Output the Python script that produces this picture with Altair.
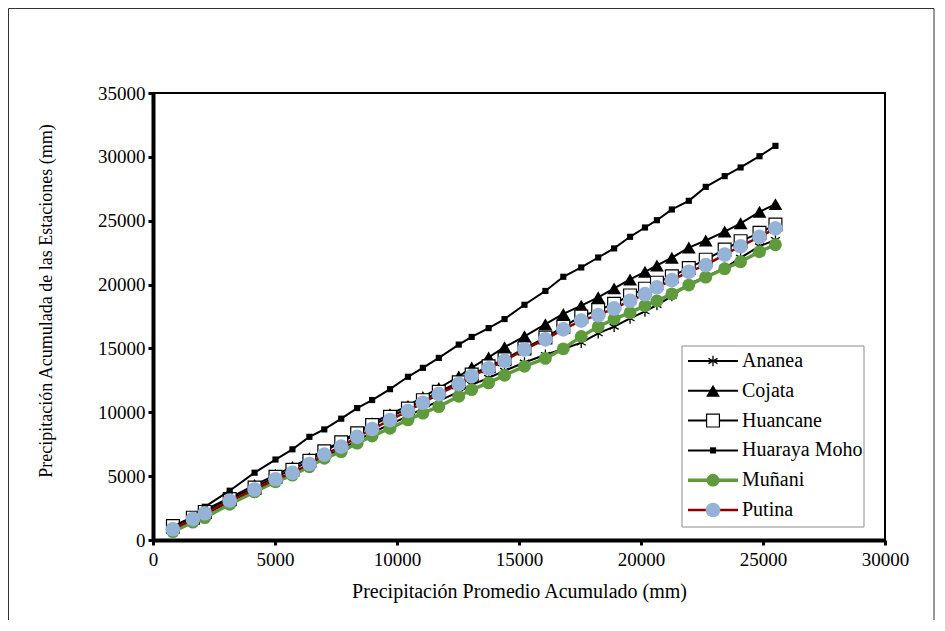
import altair as alt
import pandas as pd

# ---------------- data ----------------
x_prom = [816, 1633, 2122, 3143, 4163, 5020, 5714, 6408, 7020, 7714, 8367, 8980,
          9714, 10449, 11061, 11714, 12531, 13061, 13755, 14408, 15224, 16082, 16816,
          17551, 18245, 18898, 19551, 20163, 20653, 21265, 21959, 22653, 23429, 24082,
          24857, 25510]

ananea = [800, 1600, 2000, 2950, 3900, 4650, 5150, 5850, 6550, 7100, 7800, 8400, 9050,
          9700, 10300, 10900, 11600, 12150, 12700, 13250, 13900, 14500, 14950, 15450,
          16180, 16700, 17350, 17900, 18400, 19100, 20050, 20600, 21300, 22100, 23000, 23500]
cojata = [950, 1750, 2350, 3300, 4300, 5100, 5720, 6400, 7050, 7700, 8450, 9150, 9850,
          10500, 11200, 11900, 12800, 13500, 14300, 15100, 15950, 16900, 17700, 18350,
          19000, 19700, 20400, 21000, 21500, 22100, 22900, 23450, 24150, 24800, 25700, 26300]
huancane = [1100, 1750, 2200, 3200, 4100, 4950, 5500, 6200, 6950, 7650, 8350, 9000, 9650,
            10300, 10950, 11600, 12350, 12950, 13600, 14150, 15000, 15850, 16700, 17500,
            18000, 18500, 19150, 19680, 20150, 20650, 21300, 21950, 22750, 23400, 24050, 24700]
huaraya_moho = [1040, 1820, 2600, 3860, 5270, 6300, 7100, 8080, 8660, 9500, 10330, 10960,
                11810, 12780, 13480, 14260, 15300, 15900, 16590, 17300, 18420, 19500, 20610,
                21340, 22120, 22830, 23740, 24470, 25040, 25880, 26560, 27650, 28490, 29170,
                30050, 30860]
munani = [650, 1400, 1750, 2800, 3770, 4560, 5080, 5730, 6400, 6920, 7580, 8140, 8750,
          9400, 9930, 10440, 11250, 11770, 12300, 12900, 13600, 14220, 14970, 15940, 16700,
          17300, 17800, 18350, 18720, 19270, 19960, 20580, 21240, 21790, 22570, 23120]
putina = [840, 1640, 2090, 3080, 3950, 4760, 5260, 5950, 6690, 7310, 8070, 8690, 9390,
          10100, 10750, 11420, 12210, 12840, 13440, 14030, 14920, 15710, 16490, 17180, 17610,
          18130, 18730, 19250, 19780, 20350, 21000, 21520, 22350, 23000, 23740, 24400]

series_names = ["Ananea", "Cojata", "Huancane", "Huaraya Moho", "Muñani", "Putina"]
series_values = [ananea, cojata, huancane, huaraya_moho, munani, putina]

x_ticks = [0, 5000, 10000, 15000, 20000, 25000, 30000]
y_ticks = [0, 5000, 10000, 15000, 20000, 25000, 30000, 35000]

# ---------------- styles ----------------
ASTERISK = "M0,-1L0,1M-0.866,-0.5L0.866,0.5M-0.866,0.5L0.866,-0.5"
styles = {
    "Ananea":       dict(line="black", lw=2, shape=ASTERISK, size=110, filled=False,
                         fill="black", stroke="black", sw=1.3),
    "Cojata":       dict(line="black", lw=2, shape="triangle-up", size=190, filled=True,
                         fill="black", stroke="black", sw=0),
    "Huancane":     dict(line="black", lw=2, shape="square", size=165, filled=True,
                         fill="white", stroke="black", sw=1.2),
    "Huaraya Moho": dict(line="black", lw=2, shape="square", size=38, filled=True,
                         fill="black", stroke="black", sw=0),
    "Muñani":       dict(line="#5f9b3c", lw=3.5, shape="circle", size=165, filled=True,
                         fill="#5f9b3c", stroke="#5f9b3c", sw=0),
    "Putina":       dict(line="#8b0000", lw=2.5, shape="circle", size=215, filled=True,
                         fill="#95b3d7", stroke="#95b3d7", sw=0),
}

FONT = "Times New Roman, Liberation Serif, serif"
W, H = 732, 447

xscale = alt.Scale(domain=[0, 30000], nice=False, zero=False)
yscale = alt.Scale(domain=[0, 35000], nice=False, zero=False)

xaxis = alt.Axis(values=x_ticks, format="d", title="Precipitación Promedio Acumulado (mm)",
                 grid=False, tickSize=5, tickWidth=3, domainWidth=4, labelPadding=5,
                 titlePadding=12, titleFontSize=20, labelFlush=False, labelOverlap=False)
yaxis = alt.Axis(values=y_ticks, format="d",
                 title="Precipitación Acumulada de las Estaciones (mm)",
                 grid=False, tickSize=5, tickWidth=3, domainWidth=4, labelPadding=3,
                 titleX=-98, titleY=H / 2 - 16, titleFontSize=18,
                 labelFlush=False, labelOverlap=False)

series_layers = []
for name, vals in zip(series_names, series_values):
    st = styles[name]
    df = pd.DataFrame({"x": x_prom, "y": vals, "serie": name})
    base = alt.Chart(df).encode(
        x=alt.X("x:Q", scale=xscale, axis=xaxis),
        y=alt.Y("y:Q", scale=yscale, axis=yaxis),
    )
    line = base.mark_line(color=st["line"], strokeWidth=st["lw"])
    pts = base.mark_point(shape=st["shape"], size=st["size"], filled=st["filled"],
                          fill=st["fill"] if st["filled"] else "transparent",
                          stroke=st["stroke"], strokeWidth=st["sw"], opacity=1)
    series_layers += [line, pts]

main = alt.layer(*series_layers)

# ---------------- frame and legend ----------------
one = pd.DataFrame({"k": [0]})
frame = alt.Chart(one).mark_rect(fill="transparent", stroke="#333333", strokeWidth=1).encode(
    x=alt.value(-144.5), x2=alt.value(781), y=alt.value(-84.5), y2=alt.value(560))

legend_box = alt.Chart(one).mark_rect(fill="white", stroke="#8c8c8c", strokeWidth=1).encode(
    x=alt.value(529), x2=alt.value(711), y=alt.value(253), y2=alt.value(434))

legend_y = alt.Scale(type="point", domain=series_names, range=[268, 417], padding=0)
legend_layers = [legend_box]
for name in series_names:
    st = styles[name]
    ldf = pd.DataFrame({"serie": [name]})
    lb = alt.Chart(ldf).encode(y=alt.Y("serie:N", scale=legend_y, axis=None))
    legend_layers.append(lb.mark_rule(color=st["line"], strokeWidth=st["lw"]).encode(
        x=alt.value(535), x2=alt.value(585)))
    legend_layers.append(lb.mark_point(shape=st["shape"], size=st["size"], filled=st["filled"],
                                       fill=st["fill"] if st["filled"] else "transparent",
                                       stroke=st["stroke"], strokeWidth=st["sw"],
                                       opacity=1).encode(x=alt.value(560)))
    legend_layers.append(lb.mark_text(align="left", baseline="middle", font=FONT,
                                      fontSize=20, color="black").encode(
        x=alt.value(589), text="serie:N"))

legend = alt.layer(*legend_layers)

chart = alt.layer(frame, main, legend).resolve_scale(y="independent").properties(
    width=W, height=H,
    padding={"left": 145, "top": 85, "right": 50, "bottom": 80},
    autosize=alt.AutoSizeParams(type="none"),
).configure_view(
    stroke="black", strokeWidth=2
).configure_axis(
    labelFont=FONT, titleFont=FONT, labelFontSize=19,
    titleFontWeight="normal", labelColor="black", titleColor="black",
    domainColor="black", tickColor="black",
)

chart.save("out.html", embed_options={"renderer": "svg", "actions": False})
